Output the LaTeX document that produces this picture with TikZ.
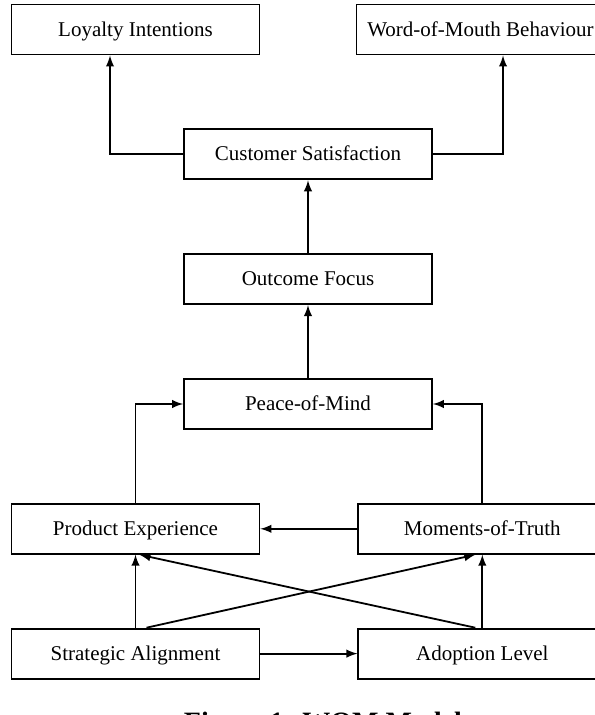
\documentclass[tikz,border=0pt]{standalone}
\usepackage{fontspec}
\setmainfont{Liberation Serif}
\usetikzlibrary{arrows, positioning}

\begin{document}
\begin{tikzpicture}[node distance=36.5pt, >=latex, line width=0.9pt,
			box/.style={rectangle, draw, minimum width=124pt, minimum height=25pt, text height=0.66em, text depth=0pt, font=\fontsize{10.5}{12}\selectfont}]
			\useasboundingbox (0,0) rectangle (297pt,-357.5pt);

			\node[box] (peace) at (154pt,-202pt) {Peace-of-Mind};
			\node[box] (outcome) [above=of peace] {Outcome Focus};
			\node[box] (satisf) [above=of outcome] {Customer Satisfaction};
			\node[box] (loyal) [above=of satisf, xshift=-86.25pt] {Loyalty Intentions};
			\node[box] (wom) [above=of satisf, xshift=86.25pt] {Word-of-Mouth Behaviour};
			\node[box] (product) [below=of peace, xshift=-86.25pt] {Product Experience};
			\node[box] (moments) [right=48.5pt of product] {Moments-of-Truth};
			\node[box] (strategic) [below=of product] {Strategic Alignment};
			\node[box] (adoption) [right=48.5pt of strategic] {Adoption Level};
			\node[font=\fontsize{14}{16}\selectfont\bfseries, anchor=north west, inner sep=0pt] (caption) at (91.5pt,-355.5pt) {Figure 1: WOM Model};

			\draw[->] (satisf.west) -| ([xshift=-12.75pt]loyal.south);
			\draw[->] (satisf.east) -| ([xshift=11.25pt]wom.south);
			\draw[->] (product) |- (peace);
			\draw[->] (moments) |- (peace);

			\path[->]
				(peace) edge (outcome)
				(outcome) edge (satisf)
				(moments) edge (product)
				(strategic) edge (product)
				(adoption) edge (moments)
				(strategic) edge (adoption)
				([xshift=5.5pt]strategic.north) edge ([xshift=-3.5pt]moments.south)
				([xshift=-3.5pt]adoption.north) edge ([xshift=2pt]product.south);
		\end{tikzpicture}
\end{document}
